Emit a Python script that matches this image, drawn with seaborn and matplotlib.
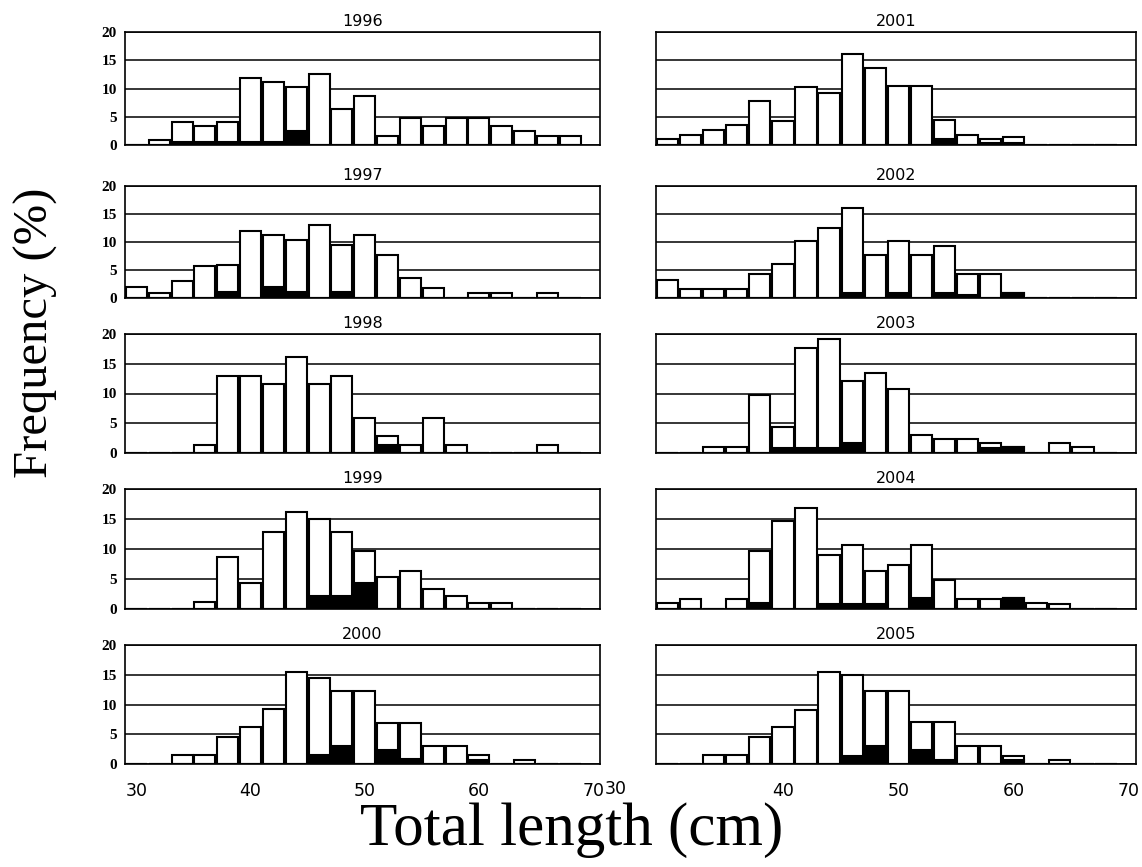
import pandas as pd
import matplotlib
matplotlib.use("Agg")
import matplotlib.pyplot as plt
import seaborn as sns
sns.set_style("white")
plt.rcParams['font.family'] = ['DejaVu Sans']
plt.rcParams['text.color'] = 'black'
plt.rcParams['xtick.color'] = 'black'
plt.rcParams['ytick.color'] = 'black'
plt.rcParams['axes.labelcolor'] = 'black'


#######################################################################
### data: length-frequency (%) per 2 cm class, total and black part
#######################################################################
length_bins = [30, 32, 34, 36, 38, 40, 42, 44, 46, 48, 50, 52, 54, 56, 58, 60, 62, 64, 66, 68]

total_1996 = [0, 0.9, 4.1, 3.3, 4.1, 11.8, 11.2, 10.2, 12.6, 6.4, 8.6, 1.6, 4.85, 3.3, 4.85, 4.85, 3.3, 2.4, 1.6, 1.6]
black_1996 = [0, 0, 0.6, 0.5, 0.6, 0.6, 0.6, 2.4, 0, 0, 0, 0, 0, 0, 0, 0, 0, 0, 0, 0]

total_1997 = [1.9, 0.9, 3.0, 5.7, 5.85, 12.0, 11.2, 10.3, 13.1, 9.55, 11.2, 7.6, 3.6, 1.85, 0, 0.9, 0.9, 0, 0.9, 0]
black_1997 = [0, 0, 0, 0, 1.0, 0, 2.0, 1.0, 0, 1.0, 0, 0, 0, 0, 0, 0, 0, 0, 0, 0]

total_1998 = [0, 0, 0, 1.4, 13.0, 13.0, 11.6, 16.1, 11.6, 13.0, 5.9, 2.8, 1.4, 5.9, 1.4, 0, 0, 0, 1.4, 0]
black_1998 = [0, 0, 0, 0, 0, 0, 0, 0, 0, 0, 0, 1.4, 0, 0, 0, 0, 0, 0, 0, 0]

total_1999 = [0, 0, 0, 1.1, 8.7, 4.4, 12.9, 16.1, 15.0, 12.9, 9.6, 5.3, 6.4, 3.3, 2.1, 1.05, 1.05, 0, 0, 0]
black_1999 = [0, 0, 0, 0, 0, 0, 0, 0, 2.2, 2.2, 4.4, 0, 0, 0, 0, 0, 0, 0, 0, 0]

total_2000 = [0, 0, 1.55, 1.55, 4.6, 6.2, 9.3, 15.4, 14.5, 12.3, 12.3, 6.9, 6.9, 3.0, 3.0, 1.45, 0, 0.7, 0, 0]
black_2000 = [0, 0, 0, 0, 0, 0, 0, 0, 1.55, 3.1, 0, 2.4, 0.8, 0, 0, 0.7, 0, 0, 0, 0]

total_2001 = [1.0, 1.8, 2.7, 3.5, 7.8, 4.3, 10.2, 9.2, 16.1, 13.7, 10.5, 10.5, 4.4, 1.8, 1.1, 1.4, 0, 0, 0, 0]
black_2001 = [0, 0, 0, 0, 0, 0, 0, 0, 0, 0, 0, 0, 1.0, 0, 0.3, 0.4, 0, 0, 0, 0]

total_2002 = [3.3, 1.6, 1.6, 1.6, 4.2, 6.0, 10.1, 12.5, 16.1, 7.6, 10.1, 7.6, 9.2, 4.2, 4.2, 0.9, 0, 0, 0, 0]
black_2002 = [0, 0, 0, 0, 0, 0, 0, 0, 0.9, 0, 0.9, 0, 0.9, 0.6, 0, 0.9, 0, 0, 0, 0]

total_2003 = [0, 0, 1.0, 1.0, 9.8, 4.3, 17.7, 19.1, 12.1, 13.5, 10.7, 3.0, 2.3, 2.3, 1.6, 1.0, 0, 1.6, 1.0, 0]
black_2003 = [0, 0, 0, 0, 0, 0.9, 0.9, 0.9, 1.7, 0, 0, 0, 0, 0, 0.9, 1.0, 0, 0, 0, 0]

total_2004 = [1.0, 1.7, 0, 1.7, 9.6, 14.6, 16.9, 9.0, 10.6, 6.3, 7.4, 10.6, 4.9, 1.7, 1.7, 1.8, 1.0, 0.8, 0, 0]
black_2004 = [0, 0, 0, 0, 1.0, 0, 0, 0.8, 0.8, 0.8, 0, 1.8, 0, 0, 0, 1.8, 0, 0, 0, 0]

total_2005 = [0, 0, 1.5, 1.5, 4.6, 6.3, 9.1, 15.4, 14.9, 12.3, 12.3, 7.0, 7.0, 3.0, 3.0, 1.4, 0, 0.7, 0, 0]
black_2005 = [0, 0, 0, 0, 0, 0, 0, 0, 1.4, 3.0, 0, 2.4, 0.7, 0, 0, 0.7, 0, 0, 0, 0]

years_left = ["1996", "1997", "1998", "1999", "2000"]
years_right = ["2001", "2002", "2003", "2004", "2005"]
x_ticks = [30, 40, 50, 60, 70]
y_ticks = [0, 5, 10, 15, 20]

series = {
  "1996": (total_1996, black_1996), "1997": (total_1997, black_1997),
  "1998": (total_1998, black_1998), "1999": (total_1999, black_1999),
  "2000": (total_2000, black_2000), "2001": (total_2001, black_2001),
  "2002": (total_2002, black_2002), "2003": (total_2003, black_2003),
  "2004": (total_2004, black_2004), "2005": (total_2005, black_2005),
}


#######################################################################
### layout (pixels)
#######################################################################
W, H = 1142, 867
col_x = [(125, 600), (656, 1136)]
row_y = [(32, 145), (186, 298), (334, 453), (489, 609), (645, 764)]


def add_panel_axes(fig, col, row):
  x0, x1 = col_x[col]
  y0, y1 = row_y[row]
  return fig.add_axes([x0 / W, 1 - y1 / H, (x1 - x0) / W, (y1 - y0) / H])


def draw_panel(ax, year, col, row):
  total, black = series[year]
  df = pd.DataFrame({"length": length_bins, "total": total, "black": black})

  sns.barplot(data=df, x="length", y="total", native_scale=True, width=0.92,
              color="white", saturation=1, edgecolor="black", linewidth=1.5,
              errorbar=None, ax=ax, zorder=2)
  sns.barplot(data=df, x="length", y="black", native_scale=True, width=0.92,
              color="black", saturation=1, edgecolor="black", linewidth=1.5,
              errorbar=None, ax=ax, zorder=3)

  ax.set_xlim(29.0, 70.6)
  ax.set_ylim(0, 20)
  ax.set_yticks(y_ticks)
  ax.set_xticks(x_ticks)
  ax.yaxis.grid(True, color="black", linewidth=1.1)
  ax.xaxis.grid(False)
  ax.set_axisbelow(True)
  for sp in ax.spines.values():
    sp.set_color("black")
    sp.set_linewidth(1.2)
  ax.set_xlabel("")
  ax.set_ylabel("")
  ax.set_title(year, fontsize=11.5, pad=4)

  ax.tick_params(axis="y", length=0, pad=6)
  ax.tick_params(axis="x", direction="in", length=4, width=1, pad=13, labelsize=12.5)

  if col == 0:
    ax.set_yticklabels([str(t) for t in y_ticks], family="Liberation Serif",
                       fontweight="bold", fontsize=11)
  else:
    ax.set_yticklabels([])

  if row == len(row_y) - 1:
    if col == 0:
      ax.set_xticklabels([str(t) for t in x_ticks])
    else:
      # the 30 label on the right-hand panel sits left of its tick
      ax.set_xticklabels([""] + [str(t) for t in x_ticks[1:]])
      ax.annotate("30", xy=(30, 0), xycoords=("data", "axes fraction"),
                  xytext=(-37, -18), textcoords="offset points",
                  ha="center", va="center", fontsize=12.5)
  else:
    ax.set_xticklabels([])


fig = plt.figure(figsize=(W / 100, H / 100), dpi=100)

for row, year in enumerate(years_left):
  draw_panel(add_panel_axes(fig, 0, row), year, 0, row)
for row, year in enumerate(years_right):
  draw_panel(add_panel_axes(fig, 1, row), year, 1, row)

fig.text(36 / W, 1 - 333 / H, "Frequency (%)", rotation=90, ha="center", va="center",
         family="Liberation Serif", fontsize=35)
fig.text(572 / W, 1 - 830 / H, "Total length (cm)", ha="center", va="center",
         family="Liberation Serif", fontsize=44)

fig.savefig("out.png", dpi=100, facecolor="white")
